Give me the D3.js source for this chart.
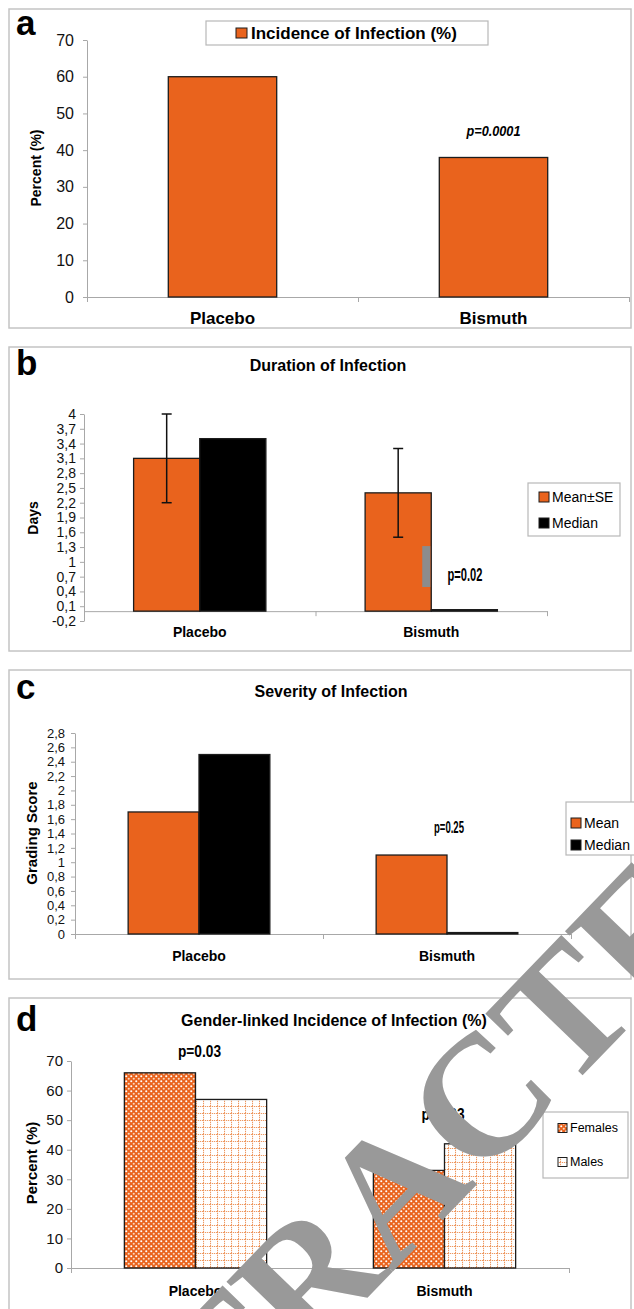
<!DOCTYPE html>
<html>
<head>
<meta charset="utf-8">
<script src="https://cdn.jsdelivr.net/npm/d3@7"></script>
<style>
  body { margin: 0; background: #fff; }
  text { font-family: "Liberation Sans", Arial, sans-serif; }
</style>
</head>
<body>
<svg id="chart" width="634" height="1309"></svg>
<script>
// data
const groups = ["Placebo", "Bismuth"];

const incidence = [60, 38];                  // panel a, %
const durationMean = [3.1, 2.4];             // panel b, days
const durationSE = [0.9, 0.9];
const durationMedian = [3.5, 0.03];
const durationMark = [0.49, 1.32];           // grey block next to bismuth bar
const severityMean = [1.7, 1.1];             // panel c, grading score
const severityMedian = [2.5, 0.02];
const femaleIncidence = [66, 33];            // panel d, %
const maleIncidence = [57, 42];

const ticksA = [0, 10, 20, 30, 40, 50, 60, 70];
const ticksB = [-0.2, 0.1, 0.4, 0.7, 1, 1.3, 1.6, 1.9, 2.2, 2.5, 2.8, 3.1, 3.4, 3.7, 4];
const ticksC = [0, 0.2, 0.4, 0.6, 0.8, 1, 1.2, 1.4, 1.6, 1.8, 2, 2.2, 2.4, 2.6, 2.8];
const ticksD = [0, 10, 20, 30, 40, 50, 60, 70];

const orange = "#e9631d";
const axisGrey = "#a8a8a8";
const barStroke = "#1c1c1c";

const svg = d3.select("#chart");

// comma decimals like the original
const commaLocale = d3.formatLocale({decimal: ",", thousands: ".", grouping: [3], currency: ["", ""], minus: "-"});
const fmtComma = commaLocale.format(".1~f");

// patterns for panel d
const defs = svg.append("defs");
var pf = defs.append("pattern").attr("id", "pat-female")
  .attr("patternUnits", "userSpaceOnUse").attr("width", 5).attr("height", 5);
pf.append("rect").attr("width", 5).attr("height", 5).attr("fill", orange);
pf.append("circle").attr("cx", 1.25).attr("cy", 1.25).attr("r", 1.05).attr("fill", "#fff");
pf.append("circle").attr("cx", 3.75).attr("cy", 3.75).attr("r", 1.05).attr("fill", "#fbd9c4");

var pm = defs.append("pattern").attr("id", "pat-male")
  .attr("patternUnits", "userSpaceOnUse").attr("width", 7).attr("height", 7);
pm.append("rect").attr("width", 7).attr("height", 7).attr("fill", "#fff");
pm.append("path").attr("d", "M0,0.5H7M0.5,0V7")
  .attr("stroke", "#ee9860").attr("stroke-width", 1.1).attr("stroke-dasharray", "1.2,0.8");

function panelBox(x, y, w, h, letter, letterY) {
  svg.append("rect")
    .attr("x", x).attr("y", y).attr("width", w).attr("height", h)
    .attr("fill", "none").attr("stroke", "#c4c4c4").attr("stroke-width", 1.5);
  svg.append("text")
    .attr("x", 16).attr("y", letterY)
    .attr("font-size", 35).attr("font-weight", "bold")
    .text(letter);
}

function yAxis(g, y, x0, ticks, fmt, fontSize, pad) {
  var ax = g.append("g")
    .attr("transform", `translate(${x0},0)`)
    .call(d3.axisLeft(y).tickValues(ticks).tickFormat(fmt)
      .tickSize(4).tickSizeOuter(0).tickPadding(pad));
  ax.select(".domain").attr("stroke", axisGrey);
  ax.selectAll(".tick line").attr("stroke", axisGrey);
  ax.selectAll(".tick text")
    .style("font-size", fontSize + "px").attr("fill", "#111");
}

function xAxis(g, x0, x1, yPos) {
  var lin = d3.scaleLinear().domain([0, groups.length]).range([x0, x1]);
  var ax = g.append("g")
    .attr("transform", `translate(0,${yPos})`)
    .call(d3.axisBottom(lin).tickValues(d3.range(groups.length + 1))
      .tickFormat("").tickSize(5).tickSizeOuter(0));
  ax.select(".domain").attr("stroke", axisGrey);
  ax.selectAll(".tick line").attr("stroke", axisGrey);
}

function catLabels(g, x, yBase, fontSize) {
  g.selectAll(null).data(groups).enter().append("text")
    .attr("x", d => x(d) + x.bandwidth() / 2)
    .attr("y", yBase)
    .attr("text-anchor", "middle")
    .attr("font-size", fontSize).attr("font-weight", "bold")
    .text(d => d);
}

function yTitle(g, label, cx, cy, fontSize) {
  g.append("text")
    .attr("transform", `translate(${cx},${cy}) rotate(-90)`)
    .attr("text-anchor", "middle").attr("dy", "0.35em")
    .attr("font-size", fontSize).attr("font-weight", "bold")
    .text(label);
}

function pText(g, label, cx, yBase, size, len, italic) {
  g.append("text")
    .attr("x", cx - len / 2).attr("y", yBase)
    .attr("font-size", size).attr("font-weight", "bold")
    .attr("font-style", italic ? "italic" : "normal")
    .attr("textLength", len).attr("lengthAdjust", "spacingAndGlyphs")
    .text(label);
}

// grouped bars: series = [{name, values, fill}]
function groupedBars(g, x, y, series) {
  var sub = d3.scaleBand().domain(series.map(s => s.name))
    .range([0, x.bandwidth()]).paddingInner(0).paddingOuter(0.75);
  series.forEach(function(s) {
    g.selectAll(null).data(s.values).enter().append("rect")
      .attr("x", (d, i) => x(groups[i]) + sub(s.name))
      .attr("y", d => y(Math.max(d, 0)))
      .attr("width", sub.bandwidth())
      .attr("height", d => Math.abs(y(0) - y(d)))
      .attr("fill", s.fill)
      .attr("stroke", barStroke).attr("stroke-width", 1.3);
  });
  return sub;
}

function legend(g, x, y, w, h, items, fontSize, sq, rowY, textX) {
  g.append("rect").attr("x", x).attr("y", y).attr("width", w).attr("height", h)
    .attr("fill", "#fff").attr("stroke", "#b8b8b8").attr("stroke-width", 1.2);
  items.forEach(function(it, i) {
    g.append("rect").attr("x", textX - sq - 3).attr("y", rowY[i] - sq / 2)
      .attr("width", sq).attr("height", sq)
      .attr("fill", it.fill).attr("stroke", barStroke).attr("stroke-width", 1);
    g.append("text").attr("x", textX).attr("y", rowY[i]).attr("dy", "0.35em")
      .attr("font-size", fontSize).text(it.name);
  });
}

// ---------- panel a ----------
(function() {
  panelBox(9, 9, 622, 319, "a", 35);
  var g = svg.append("g");
  var x = d3.scaleBand().domain(groups).range([87, 629]);
  var y = d3.scaleLinear().domain([0, 70]).range([297, 40]);
  yAxis(g, y, 87, ticksA, d3.format("d"), 16, 9);
  xAxis(g, 87, 629, y(0));
  groupedBars(g, x, y, [{name: "Incidence", values: incidence, fill: orange}]);
  catLabels(g, x, 324, 17);
  yTitle(g, "Percent (%)", 36, 168, 14);
  pText(g, "p=0.0001", x("Bismuth") + x.bandwidth() / 2, 136, 15, 54, true);
  g.append("rect").attr("x", 206).attr("y", 21).attr("width", 282).attr("height", 24)
    .attr("fill", "#fff").attr("stroke", "#b8b8b8").attr("stroke-width", 1.2);
  g.append("rect").attr("x", 236).attr("y", 28).attr("width", 11).attr("height", 10)
    .attr("fill", orange).attr("stroke", barStroke);
  g.append("text").attr("x", 251).attr("y", 39)
    .attr("font-size", 17).attr("font-weight", "bold")
    .text("Incidence of Infection (%)");
})();

// ---------- panel b ----------
(function() {
  panelBox(9, 347, 622, 304, "b", 375);
  var g = svg.append("g");
  g.append("text").attr("x", 328).attr("y", 371).attr("text-anchor", "middle")
    .attr("font-size", 16).attr("font-weight", "bold").text("Duration of Infection");
  var x = d3.scaleBand().domain(groups).range([84, 547]);
  var y = d3.scaleLinear().domain([-0.2, 4]).range([621, 414]);
  yAxis(g, y, 84, ticksB, fmtComma, 14, 4);
  xAxis(g, 84, 547, y(0));
  var sub = groupedBars(g, x, y, [
    {name: "Mean±SE", values: durationMean, fill: orange},
    {name: "Median", values: durationMedian, fill: "#000"}
  ]);
  // error bars
  var cx = (d, i) => x(groups[i]) + sub("Mean±SE") + sub.bandwidth() / 2;
  var eb = g.selectAll(null).data(durationMean).enter().append("g")
    .attr("stroke", "#111").attr("stroke-width", 1.5);
  eb.append("line").attr("x1", cx).attr("x2", cx)
    .attr("y1", (d, i) => y(d - durationSE[i])).attr("y2", (d, i) => y(d + durationSE[i]));
  eb.append("line").attr("x1", (d, i) => cx(d, i) - 5).attr("x2", (d, i) => cx(d, i) + 5)
    .attr("y1", (d, i) => y(d + durationSE[i])).attr("y2", (d, i) => y(d + durationSE[i]));
  eb.append("line").attr("x1", (d, i) => cx(d, i) - 5).attr("x2", (d, i) => cx(d, i) + 5)
    .attr("y1", (d, i) => y(d - durationSE[i])).attr("y2", (d, i) => y(d - durationSE[i]));
  // grey block stuck to the bismuth mean bar
  g.append("rect")
    .attr("x", x("Bismuth") + sub("Median") - 9).attr("width", 8)
    .attr("y", y(durationMark[1])).attr("height", y(durationMark[0]) - y(durationMark[1]))
    .attr("fill", "#8c8c8c");
  catLabels(g, x, 637, 14);
  yTitle(g, "Days", 33, 518, 14);
  pText(g, "p=0.02", 465, 581, 18, 35, false);
  legend(g, 528, 483, 92, 53, [
    {name: "Mean±SE", fill: orange}, {name: "Median", fill: "#000"}
  ], 14, 10, [497, 523], 552);
})();

// ---------- panel c ----------
(function() {
  panelBox(9, 670, 622, 309, "c", 699);
  var g = svg.append("g");
  g.append("text").attr("x", 331).attr("y", 697).attr("text-anchor", "middle")
    .attr("font-size", 16).attr("font-weight", "bold").text("Severity of Infection");
  var x = d3.scaleBand().domain(groups).range([75, 571]);
  var y = d3.scaleLinear().domain([0, 2.8]).range([934, 733]);
  yAxis(g, y, 75, ticksC, fmtComma, 13, 6);
  xAxis(g, 75, 571, y(0));
  groupedBars(g, x, y, [
    {name: "Mean", values: severityMean, fill: orange},
    {name: "Median", values: severityMedian, fill: "#000"}
  ]);
  catLabels(g, x, 961, 14);
  yTitle(g, "Grading Score", 32, 833, 15);
  pText(g, "p=0.25", 449, 833, 17, 30, false);
  legend(g, 566, 802, 80, 53, [
    {name: "Mean", fill: orange}, {name: "Median", fill: "#000"}
  ], 14, 10, [823, 845], 584);
})();

// ---------- panel d ----------
(function() {
  panelBox(9, 998, 622, 330, "d", 1031);
  var g = svg.append("g");
  g.append("text").attr("x", 334).attr("y", 1026).attr("text-anchor", "middle")
    .attr("font-size", 16).attr("font-weight", "bold").text("Gender-linked Incidence of Infection (%)");
  var x = d3.scaleBand().domain(groups).range([71, 569]);
  var y = d3.scaleLinear().domain([0, 70]).range([1268, 1061]);
  yAxis(g, y, 71, ticksD, d3.format("d"), 15, 4);
  xAxis(g, 71, 569, y(0));
  groupedBars(g, x, y, [
    {name: "Females", values: femaleIncidence, fill: "url(#pat-female)"},
    {name: "Males", values: maleIncidence, fill: "url(#pat-male)"}
  ]);
  catLabels(g, x, 1296, 14);
  yTitle(g, "Percent (%)", 32, 1163, 15);
  pText(g, "p=0.03", 199.5, 1057, 16, 43, false);
  pText(g, "p=0.03", 443, 1120, 16, 43, false);
  legend(g, 543, 1112, 85, 66, [
    {name: "Females", fill: "url(#pat-female)"}, {name: "Males", fill: "url(#pat-male)"}
  ], 12.5, 9, [1128, 1162], 570);
})();

// retraction watermark over everything (style so the css font rule doesn't win)
svg.append("text")
  .attr("transform", "translate(435,1228) rotate(-46)")
  .attr("text-anchor", "middle")
  .style("font-family", "'Liberation Serif', 'Times New Roman', serif")
  .attr("font-size", 172).attr("font-weight", "bold")
  .attr("fill", "#999999")
  .text("RETRACTED");
</script>
</body>
</html>
